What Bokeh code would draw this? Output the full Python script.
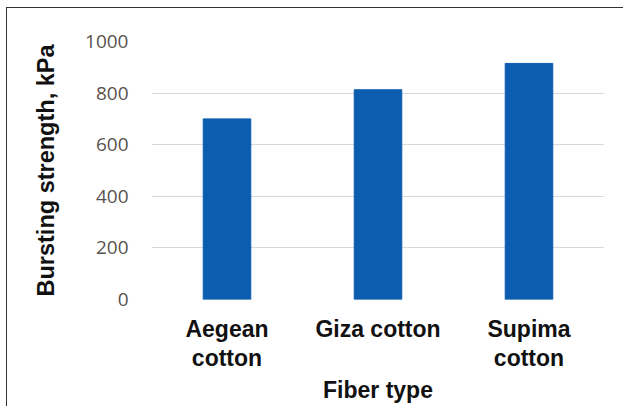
from bokeh.plotting import figure
from bokeh.models import Range1d, ColumnDataSource, SingleIntervalTicker, FixedTicker
from bokeh.embed import file_html
from bokeh.resources import INLINE

categories = ["Aegean cotton", "Giza cotton", "Supima cotton"]
tick_labels = ["Aegean\ncotton", "Giza cotton", "Supima\ncotton"]
strength = [700, 813, 915]

xpos = [i + 0.5 for i in range(len(categories))]
source = ColumnDataSource(data=dict(x=xpos, cat=categories, val=strength))

p = figure(
    x_range=Range1d(0, len(categories)),
    y_range=Range1d(0, 1000),
    width=617, height=399,
    output_backend="svg", toolbar_location=None,
    min_border_left=144, min_border_right=20,
    min_border_top=33, min_border_bottom=108,
)
p.styles = {"border-left": "1.5px solid #333333", "border-top": "1.5px solid #333333",
            "margin-left": "6px", "margin-top": "7px"}

p.vbar(x="x", top="val", width=0.315, source=source, color="#0c5daf")

p.outline_line_color = None
p.xgrid.grid_line_color = None
p.ygrid.grid_line_color = "#d9d9d9"
p.ygrid.grid_line_width = 1.2

p.yaxis.ticker = SingleIntervalTicker(interval=200)
p.yaxis.axis_line_color = None
p.yaxis.major_tick_line_color = None
p.yaxis.minor_tick_line_color = None
p.yaxis.major_label_text_font = "Open Sans"
p.yaxis.major_label_text_font_size = "19px"
p.yaxis.major_label_text_color = "#5a534f"
p.yaxis.major_label_standoff = 17
p.yaxis.axis_label = "Bursting strength, kPa"
p.yaxis.axis_label_text_font = "Liberation Sans"
p.yaxis.axis_label_text_font_style = "bold"
p.yaxis.axis_label_text_font_size = "23.5px"
p.yaxis.axis_label_text_color = "#111111"
p.yaxis.axis_label_standoff = 23

xa = p.xaxis[0]
xa.ticker = FixedTicker(ticks=xpos, minor_ticks=[])
xa.major_label_overrides = dict(zip(xpos, tick_labels))
xa.axis_line_color = None
xa.major_tick_line_color = None
xa.minor_tick_line_color = None
xa.major_label_text_font = "Liberation Sans"
xa.major_label_text_font_style = "bold"
xa.major_label_text_font_size = "23px"
xa.major_label_text_line_height = 1.15
xa.major_label_text_color = "#111111"
xa.major_label_standoff = 10
xa.axis_label = "Fiber type"
xa.axis_label_text_font = "Liberation Sans"
xa.axis_label_text_font_style = "bold"
xa.axis_label_text_font_size = "23px"
xa.axis_label_text_color = "#111111"
xa.axis_label_standoff = 3

open("out.html", "w").write(file_html(p, INLINE))
